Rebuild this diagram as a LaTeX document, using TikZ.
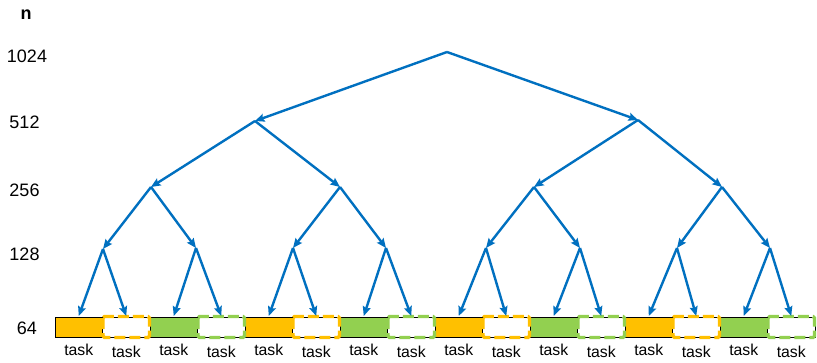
\documentclass[tikz,border=0pt]{standalone}
\usepackage{fontspec}
\setmainfont{Liberation Sans}
\usetikzlibrary{arrows.meta,calc}
\definecolor{edgeblue}{HTML}{0070C0}
\definecolor{taskorange}{HTML}{FFC000}
\definecolor{taskgreen}{HTML}{92D050}
\begin{document}
\begin{tikzpicture}[x=1pt,y=-1pt,
  edge/.style={draw=edgeblue,line width=2.4pt,-{Stealth[length=9.5pt,width=8pt,inset=1.5pt]}},
  axislbl/.style={anchor=base,inner sep=0pt,font=\fontsize{18}{19}\selectfont},
  tasklbl/.style={anchor=base,inner sep=0pt,font=\fontsize{15.8}{17}\selectfont},
  cellbox/.style={minimum width=47.5pt,minimum height=20pt,inner sep=0pt,outer sep=0pt,anchor=north west},
  solidcell/.style={cellbox,draw=black,line width=0.9pt},
  dashcell/.style={cellbox,fill=white,draw=black,line width=0.9pt},
  dashrim/.style={line width=3.2pt,dash pattern=on 11pt off 4pt,rounded corners=1.5pt}
]
\useasboundingbox[fill=white] (0,0) rectangle (817,362);

% axis labels
\node[axislbl,font=\fontsize{18}{19}\selectfont\bfseries] (ln) at (26,19) {n};
\node[axislbl] (l1024) at (27,62) {1024};
\node[axislbl] (l512) at (24.5,128) {512};
\node[axislbl] (l256) at (24.5,196) {256};
\node[axislbl] (l128) at (24.5,260) {128};
\node[axislbl] (l64) at (27,334) {64};

% tree points
\coordinate (r) at (447,52);
\coordinate (a0) at (255,121);
\coordinate (a1) at (638,120);
\coordinate (b0) at (151,187);
\coordinate (b1) at (340,187);
\coordinate (b2) at (534,187);
\coordinate (b3) at (722,187);
\coordinate (c0) at (103,249);
\coordinate (c1) at (196,248);
\coordinate (c2) at (293,248);
\coordinate (c3) at (386,248);
\coordinate (c4) at (486,248);
\coordinate (c5) at (580,248);
\coordinate (c6) at (677,248);
\coordinate (c7) at (770,248);

% bar of sixteen cells: orange, orange-dashed, green, green-dashed, ...
\foreach \i in {0,...,15}{
  \pgfmathsetmacro{\xl}{55+47.5*\i}
  \pgfmathtruncatemacro{\kind}{mod(\i,4)}
  \ifcase\kind
    \node[solidcell,fill=taskorange] (t\i) at (\xl,317) {};
  \or
    \node[dashcell] (t\i) at (\xl,317) {};
  \or
    \node[solidcell,fill=taskgreen] (t\i) at (\xl,317) {};
  \or
    \node[dashcell] (t\i) at (\xl,317) {};
  \fi
}
\foreach \i in {0,...,15}{
  \coordinate (d\i) at ($(t\i.north)+(0,-1)$);
  \pgfmathtruncatemacro{\kind}{mod(\i,4)}
  \ifnum\kind=1
    \draw[dashrim,draw=taskorange] ($(t\i.north west)+(0.5,-0.5)$) rectangle ($(t\i.south east)+(-0.5,0.5)$);
  \fi
  \ifnum\kind=3
    \draw[dashrim,draw=taskgreen] ($(t\i.north west)+(0.5,-0.5)$) rectangle ($(t\i.south east)+(-0.5,0.5)$);
  \fi
  \pgfmathtruncatemacro{\odd}{mod(\i,2)}
  \ifnum\odd=0
    \node[tasklbl] (k\i) at ($(t\i.south)+(0,18)$) {task};
  \else
    \node[tasklbl] (k\i) at ($(t\i.south)+(0,20)$) {task};
  \fi
}

% edges
\draw[edge] (r) -- (a0);
\draw[edge] (r) -- (a1);
\draw[edge] (a0) -- (b0);
\draw[edge] (a0) -- (b1);
\draw[edge] (a1) -- (b2);
\draw[edge] (a1) -- (b3);
\draw[edge] (b0) -- (c0);
\draw[edge] (b0) -- (c1);
\draw[edge] (b1) -- (c2);
\draw[edge] (b1) -- (c3);
\draw[edge] (b2) -- (c4);
\draw[edge] (b2) -- (c5);
\draw[edge] (b3) -- (c6);
\draw[edge] (b3) -- (c7);
\foreach \p/\q/\r in {0/0/1,1/2/3,2/4/5,3/6/7,4/8/9,5/10/11,6/12/13,7/14/15}{
  \draw[edge] (c\p) -- (d\q);
  \draw[edge] (c\p) -- (d\r);
}
\end{tikzpicture}
\end{document}
